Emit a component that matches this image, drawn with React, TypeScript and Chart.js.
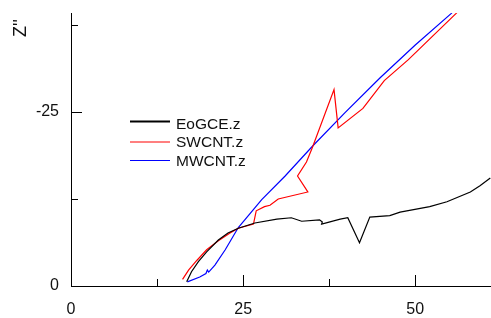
import React, { useEffect, useRef } from "react";
import { Chart, registerables } from "chart.js";

Chart.register(...registerables);

// ---- data ----
const seriesNames = ["EoGCE.z", "SWCNT.z", "MWCNT.z"];

const eogceX = [16.8, 17.5, 18.5, 19.7, 21.4, 22.8, 24.3, 26.7, 29.9, 32.0, 33.5, 36.1, 36.5, 36.4, 39.1, 40.2, 41.9, 43.4, 46.3, 47.8, 52.1, 54.6, 58.0, 59.4, 60.9];
const eogceY = [-0.62, -2.05, -3.5, -4.9, -6.6, -7.6, -8.3, -9.05, -9.6, -9.8, -9.3, -9.5, -9.2, -8.9, -9.6, -9.8, -6.2, -9.9, -10.1, -10.6, -11.4, -12.1, -13.5, -14.4, -15.5];

const swcntX = [16.2, 17.1, 18.3, 19.7, 21.4, 23.1, 24.3, 26.5, 26.9, 28.1, 28.9, 30.1, 34.4, 32.9, 34.2, 35.1, 38.2, 38.8, 42.4, 45.5, 49.0, 55.9, 57.0];
const swcntY = [-0.96, -2.3, -3.7, -5.2, -6.5, -7.6, -8.3, -8.9, -10.8, -11.4, -11.6, -12.5, -13.5, -15.8, -17.8, -20.0, -28.2, -22.7, -25.5, -29.5, -32.5, -39.1, -40.3];

const mwcntX = [16.9, 18.7, 19.6, 19.8, 20.0, 20.9, 22.4, 24.3, 27.7, 31.1, 35.1, 39.8, 44.9, 50.0, 55.2, 56.2];
const mwcntY = [-0.6, -1.3, -1.8, -2.3, -2.0, -3.0, -5.2, -8.4, -12.4, -15.8, -20.1, -24.9, -29.9, -34.6, -39.1, -40.2];

const xMajorTicks = [0, 25, 50];
const xMinorTicks = [12.5, 37.5];
const yMajorTicks = [0, -25];
const yMinorTicks = [-12.5, -37.5];
const xRange = [0, 61];
const yRange = [-39.2, 0];
const yTitle = "Z''";

const colors = ["#000000", "#ff0000", "#0000ff"];

const toPoints = (xs: number[], ys: number[]) => xs.map((x, i) => ({ x, y: ys[i] }));

const FONT = "'Liberation Sans', Arial, sans-serif";

const zeroPad = (s: any) => {
  s.paddingTop = 0;
  s.paddingBottom = 0;
  s.paddingLeft = 0;
  s.paddingRight = 0;
};

const overlayPlugin = {
  id: "overlay",
  afterDraw(chart: any) {
    const ctx = chart.ctx;
    const xs = chart.scales.x;
    const ys = chart.scales.y;
    const { left, bottom } = chart.chartArea;
    ctx.save();
    ctx.strokeStyle = "#000";
    ctx.lineWidth = 1;
    // inward tick marks
    const drawX = (v: number, len: number) => {
      const px = Math.round(xs.getPixelForValue(v)) + 0.5;
      ctx.beginPath();
      ctx.moveTo(px, bottom);
      ctx.lineTo(px, bottom - len);
      ctx.stroke();
    };
    const drawY = (v: number, len: number) => {
      const py = Math.round(ys.getPixelForValue(v)) + 0.5;
      ctx.beginPath();
      ctx.moveTo(left, py);
      ctx.lineTo(left + len, py);
      ctx.stroke();
    };
    xMajorTicks.forEach((v) => drawX(v, 11));
    xMinorTicks.forEach((v) => drawX(v, 7));
    yMajorTicks.forEach((v) => drawY(v, 11));
    yMinorTicks.forEach((v) => drawY(v, 7));

    // y-axis title
    ctx.fillStyle = "#111";
    ctx.font = `18px ${FONT}`;
    ctx.translate(26, 37);
    ctx.rotate(-Math.PI / 2);
    ctx.textAlign = "left";
    ctx.textBaseline = "alphabetic";
    ctx.fillText(yTitle, 0, 0);
    ctx.restore();

    // legend
    ctx.save();
    const legendLineY = [121.5, 142, 160.5];
    const legendTextY = [124.5, 142.8, 161.5];
    const lineW = [2, 1.2, 1.2];
    ctx.font = `15.5px ${FONT}`;
    ctx.textBaseline = "middle";
    ctx.textAlign = "left";
    seriesNames.forEach((name, i) => {
      ctx.strokeStyle = colors[i];
      ctx.lineWidth = lineW[i];
      ctx.beginPath();
      ctx.moveTo(130, legendLineY[i]);
      ctx.lineTo(170, legendLineY[i]);
      ctx.stroke();
      ctx.fillStyle = "#111";
      ctx.fillText(name, 176, legendTextY[i]);
    });
    ctx.restore();
  },
};

export default function App() {
  const ref = useRef<HTMLCanvasElement>(null);
  useEffect(() => {
    if (!ref.current) return;
    const chart = new Chart(ref.current, {
      type: "line",
      data: {
        datasets: [
          { label: seriesNames[0], data: toPoints(eogceX, eogceY), borderColor: colors[0], borderWidth: 1.2 },
          { label: seriesNames[1], data: toPoints(swcntX, swcntY), borderColor: colors[1], borderWidth: 1.2 },
          { label: seriesNames[2], data: toPoints(mwcntX, mwcntY), borderColor: colors[2], borderWidth: 1.2 },
        ],
      },
      options: {
        animation: false,
        responsive: false,
        maintainAspectRatio: false,
        parsing: false,
        elements: { point: { radius: 0 }, line: { tension: 0 } },
        layout: { padding: { top: 13, right: 0, left: 0, bottom: 0 } },
        plugins: { legend: { display: false }, tooltip: { enabled: false } },
        scales: {
          x: {
            type: "linear",
            min: xRange[0],
            max: xRange[1],
            grid: { display: false, drawTicks: false },
            border: { display: true, color: "#000", width: 1 },
            afterBuildTicks: (s: any) => {
              s.ticks = xMajorTicks.map((v) => ({ value: v }));
            },
            afterFit: (s: any) => {
              s.height = 32;
              zeroPad(s);
            },
            ticks: {
              color: "#111",
              font: { family: FONT, size: 16 },
              padding: 14,
              maxRotation: 0,
              callback: (v: any) => String(v),
            },
          },
          y: {
            type: "linear",
            min: yRange[0],
            max: yRange[1],
            reverse: true,
            grid: { display: false, drawTicks: false },
            border: { display: true, color: "#000", width: 1 },
            afterBuildTicks: (s: any) => {
              s.ticks = yMajorTicks.map((v) => ({ value: v }));
            },
            afterFit: (s: any) => {
              s.width = 71;
              zeroPad(s);
            },
            ticks: {
              color: "#111",
              font: { family: FONT, size: 16 },
              padding: 12,
              callback: (v: any) => (v === 0 ? "0" : String(v)),
            },
          },
        },
      },
      plugins: [overlayPlugin],
    } as any);
    return () => chart.destroy();
  }, []);
  return (
    <div style={{ position: "absolute", left: 0, top: 0, width: 491, height: 318, background: "#fff" }}>
      <canvas ref={ref} width={491} height={318} style={{ display: "block" }} />
    </div>
  );
}
